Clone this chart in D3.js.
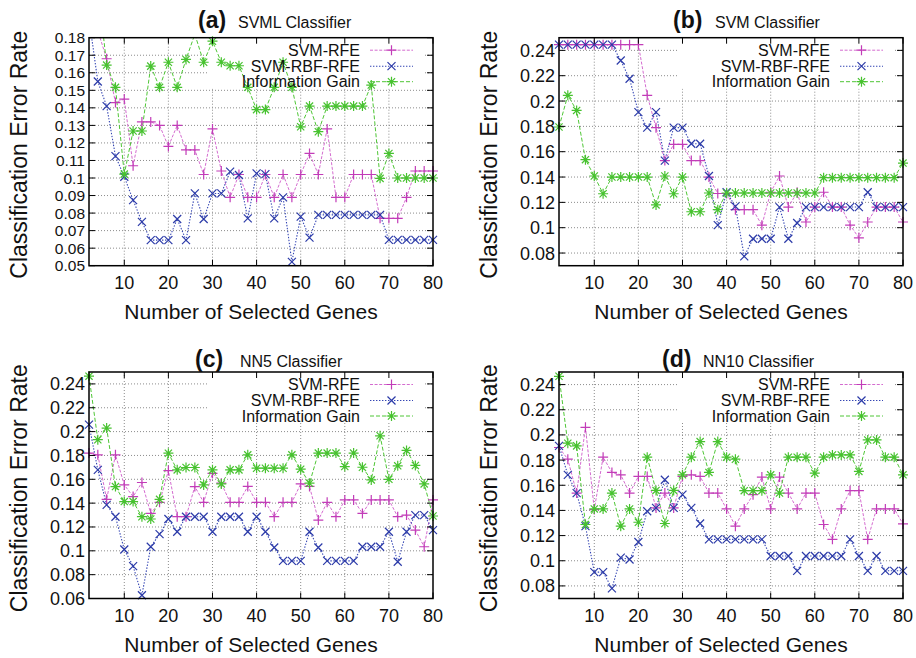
<!DOCTYPE html>
<html><head><meta charset="utf-8">
<script src="https://cdn.jsdelivr.net/npm/d3@7"></script>
<style>
body{margin:0;background:#fff;}
svg{display:block;font-family:"Liberation Sans",Arial,Helvetica,sans-serif;}
</style></head><body>
<svg id="chart" width="916" height="658"></svg>
<script>
const genes=[2,4,6,8,10,12,14,16,18,20,22,24,26,28,30,32,34,36,38,40,42,44,46,48,50,52,54,56,58,60,62,64,66,68,70,72,74,76,78,80];
const xTicks=[10,20,30,40,50,60,70,80];

// (a) SVML
const svmlRfe=[0.20,0.184,0.168,0.143,0.145,0.107,0.132,0.132,0.130,0.118,0.130,0.116,0.116,0.102,0.128,0.104,0.089,0.102,0.089,0.089,0.102,0.089,0.102,0.089,0.102,0.114,0.102,0.128,0.089,0.089,0.102,0.102,0.102,0.077,0.077,0.077,0.089,0.104,0.104,0.104];
const svmlRbf=[0.191,0.155,0.141,0.1125,0.1007,0.0874,0.075,0.0646,0.0646,0.0646,0.0766,0.0646,0.0912,0.0766,0.0912,0.0912,0.1036,0.1017,0.077,0.1026,0.1022,0.077,0.089,0.0522,0.078,0.066,0.079,0.079,0.079,0.079,0.079,0.079,0.079,0.079,0.0647,0.0647,0.0647,0.0647,0.0647,0.0647];
const svmlIg=[0.22,0.21,0.1644,0.1517,0.1022,0.1268,0.1268,0.1638,0.1517,0.166,0.1517,0.1676,0.182,0.166,0.178,0.166,0.164,0.164,0.1517,0.139,0.139,0.1517,0.166,0.1517,0.1292,0.141,0.1264,0.141,0.141,0.141,0.141,0.141,0.153,0.0998,0.114,0.100,0.100,0.100,0.100,0.100];
const svmlTicks=[0.05,0.06,0.07,0.08,0.09,0.1,0.11,0.12,0.13,0.14,0.15,0.16,0.17,0.18];

// (b) SVM
const svmRfe=[0.2445,0.2445,0.2445,0.2445,0.2445,0.2445,0.2445,0.2445,0.2445,0.2445,0.2045,0.179,0.153,0.1658,0.1658,0.153,0.153,0.140,0.127,0.127,0.1142,0.1142,0.1142,0.102,0.128,0.1408,0.1163,0.128,0.1045,0.1163,0.128,0.1163,0.1163,0.102,0.092,0.1045,0.1163,0.1163,0.1163,0.1045];
const svmRbf=[0.2445,0.2445,0.2445,0.2445,0.2445,0.2445,0.2445,0.232,0.2176,0.1913,0.179,0.1913,0.153,0.179,0.179,0.1663,0.1663,0.1408,0.102,0.128,0.1168,0.0774,0.0913,0.0913,0.0913,0.1163,0.0913,0.1037,0.1163,0.1163,0.1163,0.1163,0.1163,0.1163,0.1163,0.128,0.1163,0.1163,0.1163,0.1163];
const svmIg=[0.1795,0.2045,0.1926,0.1537,0.1408,0.1268,0.140,0.140,0.140,0.140,0.140,0.118,0.1408,0.1268,0.140,0.1126,0.1126,0.1274,0.1142,0.1274,0.1274,0.1274,0.1274,0.1274,0.1274,0.1274,0.1274,0.1274,0.1274,0.1274,0.1395,0.1395,0.1395,0.1395,0.1395,0.1395,0.1395,0.1395,0.1395,0.151];
const svmTicks=[0.08,0.1,0.12,0.14,0.16,0.18,0.2,0.22,0.24];

// (c) NN5
const nn5Rfe=[0.182,0.1805,0.1432,0.1805,0.1553,0.1455,0.1573,0.1314,0.1407,0.1673,0.1286,0.1286,0.1539,0.1407,0.165,0.1567,0.1407,0.1407,0.154,0.1407,0.1407,0.1286,0.1407,0.1407,0.1561,0.154,0.1258,0.1407,0.1286,0.1427,0.1427,0.1314,0.1427,0.1427,0.1427,0.1286,0.130,0.1174,0.1034,0.1427];
const nn5Rbf=[0.2058,0.1679,0.1385,0.1286,0.1011,0.0871,0.0627,0.1034,0.114,0.1267,0.116,0.1286,0.1286,0.1286,0.116,0.1286,0.1286,0.1286,0.116,0.1286,0.116,0.1028,0.0916,0.0916,0.0916,0.116,0.1028,0.0916,0.0916,0.0916,0.0916,0.1034,0.1034,0.1034,0.116,0.0908,0.116,0.130,0.130,0.1174];
const nn5Ig=[0.2465,0.1932,0.203,0.1539,0.1413,0.1413,0.1286,0.1267,0.1432,0.1819,0.1679,0.1699,0.1699,0.1553,0.1679,0.1561,0.1679,0.1679,0.1805,0.1693,0.1693,0.1693,0.1693,0.1805,0.1685,0.1567,0.182,0.182,0.182,0.1707,0.182,0.1701,0.1595,0.1965,0.160,0.1713,0.1842,0.1716,0.1561,0.1292];
const nn5Ticks=[0.06,0.08,0.1,0.12,0.14,0.16,0.18,0.2,0.22,0.24];

// (d) NN10
const nn10Rfe=[0.19,0.1807,0.1538,0.206,0.1407,0.1823,0.1702,0.1683,0.1538,0.167,0.167,0.142,0.1538,0.142,0.167,0.1683,0.167,0.1538,0.1538,0.1412,0.1275,0.1412,0.1525,0.1665,0.1412,0.1665,0.1538,0.1412,0.1538,0.1538,0.1288,0.117,0.1412,0.1557,0.1557,0.117,0.1412,0.1412,0.1412,0.1293];
const nn10Rbf=[0.1913,0.1683,0.1538,0.1275,0.091,0.091,0.078,0.1025,0.101,0.1149,0.1393,0.142,0.1644,0.142,0.1525,0.142,0.1296,0.117,0.117,0.117,0.117,0.117,0.117,0.117,0.1038,0.1038,0.1038,0.092,0.1038,0.1038,0.1038,0.1038,0.1038,0.117,0.1038,0.092,0.1038,0.092,0.092,0.092];
const nn10Ig=[0.2466,0.1934,0.1913,0.1288,0.1412,0.1412,0.1538,0.1275,0.1412,0.1306,0.1823,0.1559,0.1296,0.1559,0.1683,0.1823,0.1947,0.1702,0.1947,0.1823,0.1807,0.1557,0.1557,0.1557,0.1683,0.1538,0.1823,0.1823,0.1823,0.1696,0.1823,0.1841,0.1841,0.1841,0.171,0.196,0.196,0.1823,0.1823,0.1683];
const nn10Ticks=[0.08,0.1,0.12,0.14,0.16,0.18,0.2,0.22,0.24];

const seriesNames=['SVM-RFE','SVM-RBF-RFE','Information Gain'];

const styles=[
  {mark:'#c23cb8',line:'#d46ccf',dash:'3,1.6',w:1,shape:'plus'},
  {mark:'#2b3aa8',line:'#3546b4',dash:'1.4,1.6',w:1.1,shape:'cross'},
  {mark:'#47c22f',line:'#4fc636',dash:'4,2',w:1,shape:'star'}
];
const shapes={
  plus:'M-5,0H5M0,-5V5',
  cross:'M-4,-4L4,4M-4,4L4,-4',
  star:'M-5,0H5M0,-5V5M-3.6,-3.6L3.6,3.6M-3.6,3.6L3.6,-3.6'
};

// tickFont: (a) has tight 0.01 steps, so its labels are a bit smaller to keep them apart
const panels=[
  {tag:'(a)',name:'SVML Classifier',data:[svmlRfe,svmlRbf,svmlIg],dom:[0.05,0.18],ticks:svmlTicks,l:89,t:37.7,h:228,tagX:198,nameX:238,titleY:28,tickFont:15.5},
  {tag:'(b)',name:'SVM Classifier',data:[svmRfe,svmRbf,svmIg],dom:[0.07,0.25],ticks:svmTicks,l:559,t:37.7,h:228,tagX:673,nameX:715,titleY:28,tickFont:18},
  {tag:'(c)',name:'NN5 Classifier',data:[nn5Rfe,nn5Rbf,nn5Ig],dom:[0.06,0.25],ticks:nn5Ticks,l:89,t:372,h:226.5,tagX:195,nameX:240,titleY:366.5,tickFont:18},
  {tag:'(d)',name:'NN10 Classifier',data:[nn10Rfe,nn10Rbf,nn10Ig],dom:[0.07,0.25],ticks:nn10Ticks,l:559,t:372,h:226.5,tagX:662,nameX:703,titleY:366.5,tickFont:18}
];

const svg=d3.select('#chart');
svg.append('rect').attr('width',916).attr('height',658).attr('fill','#fff');
const W=344;

panels.forEach((p,pi)=>{
  const h=p.h;
  const x=d3.scaleLinear().domain([2,80]).range([0,W]);
  const y=d3.scaleLinear().domain(p.dom).range([h,0]);
  const g=svg.append('g').attr('transform',`translate(${p.l},${p.t})`);

  // grid
  const grid=g.append('g').attr('stroke','#8c8c8c').attr('stroke-width',1).attr('stroke-dasharray','1,2');
  p.ticks.filter(v=>y(v)>1&&y(v)<h-1).forEach(v=>{
    grid.append('line').attr('x1',0).attr('x2',W).attr('y1',y(v)).attr('y2',y(v));
  });
  xTicks.filter(v=>x(v)<W-1).forEach(v=>{
    grid.append('line').attr('x1',x(v)).attr('x2',x(v)).attr('y1',0).attr('y2',h);
  });
  // opaque key box
  g.append('rect').attr('x',W-226).attr('y',0).attr('width',216).attr('height',51).attr('fill','#fff');

  // lines
  const cid='clip'+pi;
  g.append('clipPath').attr('id',cid).append('rect').attr('width',W).attr('height',h);
  const lines=g.append('g').attr('clip-path',`url(#${cid})`);
  p.data.forEach((vals,si)=>{
    const st=styles[si];
    const pts=genes.map((gx,i)=>[gx,vals[i]]);
    lines.append('path').datum(pts)
      .attr('fill','none').attr('stroke',st.line).attr('stroke-width',st.w).attr('stroke-dasharray',st.dash)
      .attr('d',d3.line().x(d=>x(d[0])).y(d=>y(d[1])));
  });
  p.data.forEach((vals,si)=>{
    const st=styles[si];
    const pts=genes.map((gx,i)=>[gx,vals[i]]).filter(d=>d[1]<=p.dom[1]+0.0005&&d[1]>=p.dom[0]-0.0005);
    g.append('g').selectAll('path').data(pts).join('path')
      .attr('transform',d=>`translate(${x(d[0])},${y(d[1])})`)
      .attr('d',shapes[st.shape]).attr('fill','none').attr('stroke',st.mark).attr('stroke-width',1.2);
  });

  // border and ticks
  g.append('rect').attr('width',W).attr('height',h).attr('fill','none').attr('stroke','#000').attr('stroke-width',1.5);
  const tk=g.append('g').attr('stroke','#000').attr('stroke-width',1);
  p.ticks.forEach(v=>{
    tk.append('line').attr('x1',0).attr('x2',6).attr('y1',y(v)).attr('y2',y(v));
    tk.append('line').attr('x1',W-6).attr('x2',W).attr('y1',y(v)).attr('y2',y(v));
  });
  xTicks.forEach(v=>{
    tk.append('line').attr('x1',x(v)).attr('x2',x(v)).attr('y1',h).attr('y2',h-6);
    tk.append('line').attr('x1',x(v)).attr('x2',x(v)).attr('y1',0).attr('y2',6);
  });

  // tick labels
  g.append('g').selectAll('text').data(p.ticks).join('text')
    .attr('x',-4).attr('y',d=>y(d)).attr('dy','0.36em').attr('text-anchor','end')
    .attr('font-size',p.tickFont).attr('fill','#111').text(d=>String(+d.toFixed(2)));
  g.append('g').selectAll('text').data(xTicks).join('text')
    .attr('x',d=>x(d)).attr('y',h+23).attr('text-anchor','middle')
    .attr('font-size',18).attr('fill','#111').text(d=>d);

  // axis titles
  g.append('text').attr('transform',`translate(-62,${h/2+3}) rotate(-90)`).attr('text-anchor','middle')
    .attr('font-size',23).attr('fill','#111').text('Classification Error Rate');
  g.append('text').attr('x',W/2-10).attr('y',h+53).attr('text-anchor','middle')
    .attr('font-size',21).attr('fill','#111').text('Number of Selected Genes');

  // title
  svg.append('text').attr('x',p.tagX).attr('y',p.titleY).attr('font-size',23).attr('font-weight','bold').attr('fill','#111').text(p.tag);
  svg.append('text').attr('x',p.nameX).attr('y',p.titleY).attr('font-size',16).attr('fill','#111').text(p.name);

  // key
  const rows=[18,34,49.5];
  seriesNames.forEach((nm,si)=>{
    const st=styles[si];
    const ky=rows[si];
    g.append('text').attr('x',W-73).attr('y',ky).attr('text-anchor','end').attr('font-size',16).attr('fill','#111').text(nm);
    g.append('line').attr('x1',W-63).attr('x2',W-20).attr('y1',ky-5.5).attr('y2',ky-5.5)
      .attr('stroke',st.line).attr('stroke-width',st.w).attr('stroke-dasharray',st.dash);
    g.append('path').attr('transform',`translate(${W-41.5},${ky-5.5})`).attr('d',shapes[st.shape])
      .attr('fill','none').attr('stroke',st.mark).attr('stroke-width',1.2);
  });
});
</script>
</body></html>
